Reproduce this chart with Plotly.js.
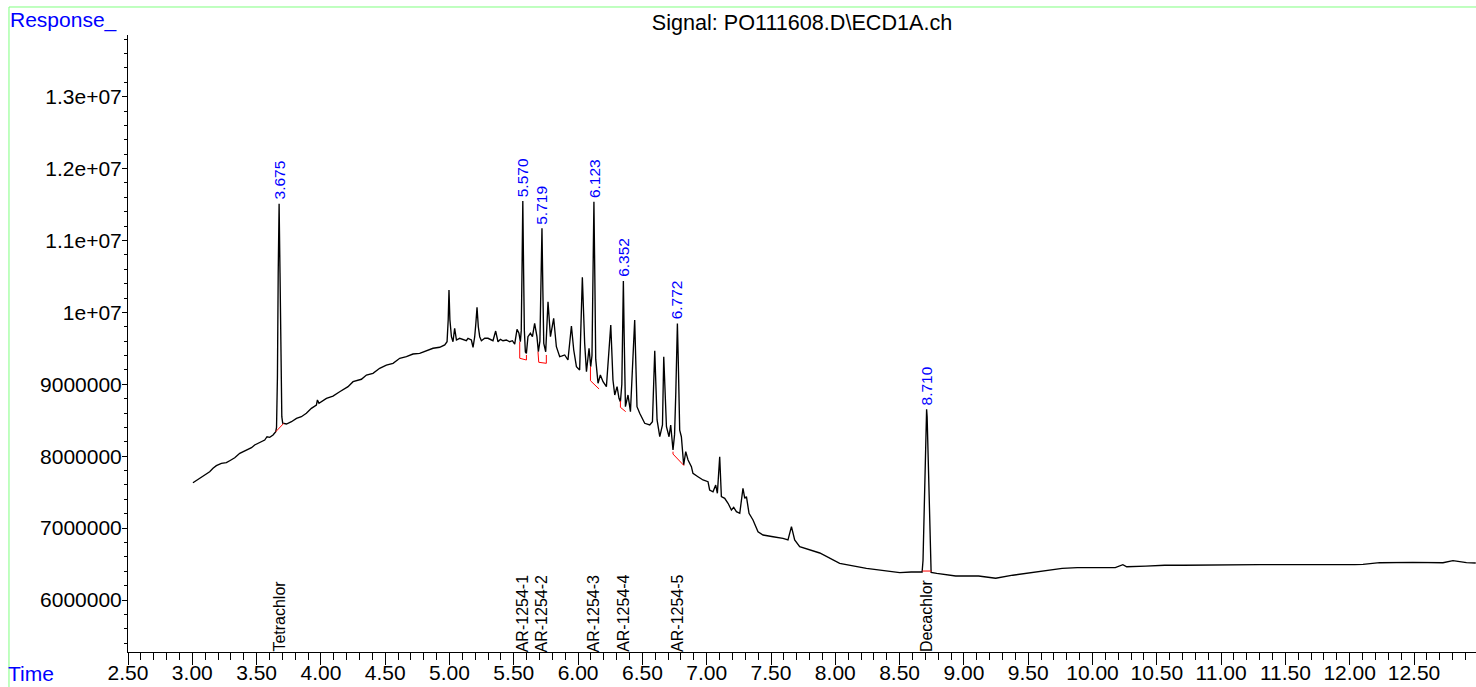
<!DOCTYPE html>
<html><head><meta charset="utf-8">
<script src="https://cdn.plot.ly/plotly-3.0.1.min.js"></script>
<style>html,body{margin:0;padding:0;background:#fff;overflow:hidden}#chart{width:1476px;height:687px}</style>
</head><body><div id="chart"></div>
<script>
// Retention time (min)
const times = [
3.005,3.044,3.071,3.096,3.135,3.161,3.187,3.226,3.265,3.291,3.330,3.369,3.394,3.421,3.460,3.485,3.524,3.563,3.581,3.602,3.628,
3.649,3.655,3.662,3.668,3.675,3.682,3.688,3.696,3.703,3.711,3.732,3.771,3.810,3.848,3.887,3.926,3.965,3.973,3.985,
4.043,4.094,4.146,4.211,4.250,4.315,4.354,4.405,4.457,4.509,4.561,4.613,4.665,4.716,4.768,4.846,4.872,4.924,4.963,
4.981,4.990,4.996,5.003,5.015,5.027,5.040,5.054,5.079,5.105,5.131,5.144,5.170,5.183,5.196,5.205,5.214,5.224,5.235,
5.248,5.274,5.299,5.313,5.338,5.359,5.377,5.396,5.416,5.442,5.468,5.489,5.507,5.525,5.540,
5.551,5.558,5.564,5.570,5.576,5.582,5.590,5.598,5.610,5.629,5.645,5.662,5.680,
5.691,5.703,5.711,5.719,5.726,5.733,5.748,5.766,5.785,5.810,5.831,5.857,5.876,5.896,5.921,5.948,5.966,5.987,
6.012,6.033,6.051,6.065,6.085,6.098,6.108,6.116,6.123,6.130,6.137,6.155,6.173,6.194,6.220,6.254,6.271,6.285,6.303,
6.318,6.329,6.340,6.346,6.352,6.358,6.363,6.368,6.388,6.407,6.440,6.458,6.479,6.518,6.557,6.578,6.596,6.614,6.635,
6.656,6.666,6.687,6.707,6.720,6.738,6.750,6.760,6.766,6.772,6.778,6.784,6.790,6.803,6.821,6.837,6.855,6.881,6.893,
6.932,6.971,7.010,7.023,7.049,7.070,7.083,7.101,7.114,7.140,7.166,7.192,7.210,7.231,7.257,7.282,7.296,7.309,7.329,
7.360,7.399,7.438,7.516,7.593,7.632,7.659,7.684,7.723,7.879,7.982,8.034,8.242,8.397,8.501,8.590,
8.675,8.682,8.690,8.700,8.706,8.710,8.714,8.720,8.730,8.738,8.745,
8.789,8.936,9.114,9.247,9.380,9.527,9.675,9.764,9.882,10.059,10.177,10.236,10.266,10.414,10.561,10.709,11.005,11.300,11.596,11.891,
12.039,12.103,12.233,12.492,12.725,12.803,12.908,12.980
];
// Detector response
const response = [
7.631e6,7.679e6,7.715e6,7.738e6,7.784e6,7.832e6,7.868e6,7.901e6,7.910e6,7.937e6,7.979e6,8.040e6,8.063e6,8.086e6,8.118e6,8.156e6,8.188e6,8.225e6,8.271e6,8.263e6,8.295e6,
8.341e6,8.400e6,9.100e6,10.550e6,11.510e6,10.550e6,9.200e6,8.550e6,8.460e6,8.457e6,8.448e6,8.480e6,8.527e6,8.549e6,8.597e6,8.666e6,8.712e6,8.782e6,8.736e6,
8.805e6,8.837e6,8.897e6,8.967e6,9.036e6,9.070e6,9.129e6,9.153e6,9.223e6,9.268e6,9.292e6,9.362e6,9.384e6,9.421e6,9.431e6,9.487e6,9.501e6,9.515e6,9.547e6,
9.592e6,9.900e6,10.312e6,9.900e6,9.662e6,9.592e6,9.779e6,9.616e6,9.640e6,9.626e6,9.606e6,9.640e6,9.616e6,9.515e6,9.662e6,9.850e6,10.071e6,9.800e6,9.662e6,
9.606e6,9.640e6,9.640e6,9.626e6,9.606e6,9.741e6,9.592e6,9.626e6,9.606e6,9.616e6,9.592e6,9.606e6,9.560e6,9.765e6,9.709e6,
9.593e6,9.750e6,10.600e6,11.550e6,10.600e6,9.750e6,9.450e6,9.430e6,9.662e6,9.709e6,9.662e6,9.848e6,9.662e6,
9.453e6,9.600e6,10.300e6,11.170e6,10.300e6,9.570e6,9.453e6,10.149e6,9.662e6,9.918e6,9.523e6,9.384e6,9.394e6,9.408e6,9.338e6,9.811e6,9.477e6,9.245e6,
9.199e6,10.488e6,9.570e6,9.175e6,9.501e6,9.245e6,9.400e6,10.500e6,11.540e6,10.500e6,9.350e6,9.014e6,9.129e6,9.036e6,8.967e6,9.825e6,9.060e6,8.851e6,8.967e6,
8.805e6,8.758e6,9.000e6,9.700e6,10.437e6,9.700e6,9.000e6,8.689e6,8.851e6,8.619e6,9.894e6,8.689e6,8.597e6,8.458e6,8.434e6,8.480e6,9.467e6,8.504e6,8.271e6,
8.434e6,9.384e6,8.410e6,8.271e6,8.434e6,8.086e6,8.300e6,8.900e6,9.400e6,9.846e6,9.400e6,8.700e6,8.364e6,8.271e6,7.878e6,8.063e6,7.947e6,7.854e6,7.762e6,
7.715e6,7.669e6,7.645e6,7.530e6,7.506e6,7.599e6,7.484e6,7.993e6,7.437e6,7.414e6,7.345e6,7.252e6,7.289e6,7.228e6,7.206e6,7.554e6,7.414e6,7.437e6,7.206e6,
7.113e6,6.950e6,6.904e6,6.880e6,6.858e6,6.835e6,7.020e6,6.835e6,6.741e6,6.654e6,6.556e6,6.510e6,6.441e6,6.403e6,6.380e6,6.389e6,
6.390e6,6.550e6,7.300e6,8.050e6,8.550e6,8.652e6,8.550e6,8.050e6,7.300e6,6.550e6,6.385e6,
6.371e6,6.334e6,6.334e6,6.303e6,6.345e6,6.383e6,6.424e6,6.440e6,6.451e6,6.451e6,6.451e6,6.492e6,6.462e6,6.472e6,6.483e6,6.483e6,6.492e6,6.492e6,6.492e6,6.488e6,
6.492e6,6.496e6,6.519e6,6.524e6,6.519e6,6.547e6,6.519e6,6.515e6
];
// Integration baselines (red)
const baseTimes = [[3.649,3.711],[5.546,5.546,5.598,5.598],[5.688,5.694,5.753,5.753],[6.096,6.096,6.163],[6.329,6.329,6.370],[6.738,6.738,6.824],[8.677,8.747]];
const baseResp = [[8.341e6,8.457e6],[9.593e6,9.362e6,9.338e6,9.408e6],[9.453e6,9.306e6,9.292e6,9.408e6],[9.245e6,9.050e6,8.935e6],[8.770e6,8.680e6,8.620e6],[8.063e6,8.030e6,7.868e6],[6.403e6,6.403e6]];
// Identified peaks
const peakTimes = [3.675,5.570,5.719,6.123,6.352,6.772,8.710];
const peakLabels = ["3.675","5.570","5.719","6.123","6.352","6.772","8.710"];
const compoundNames = ["Tetrachlor","AR-1254-1","AR-1254-2","AR-1254-3","AR-1254-4","AR-1254-5","Decachlor"];
// Axis ticks
const xTickVals = [2.5,3,3.5,4,4.5,5,5.5,6,6.5,7,7.5,8,8.5,9,9.5,10,10.5,11,11.5,12,12.5];
const yTickVals = [6e6,7e6,8e6,9e6,1e7,1.1e7,1.2e7,1.3e7];
const yTickText = ["6000000","7000000","8000000","9000000","1e+07","1.1e+07","1.2e+07","1.3e+07"];

const FONT = "Liberation Sans, Arial, Helvetica, sans-serif";
const traces = [{
  x: times, y: response, type: 'scatter', mode: 'lines',
  line: {color: '#000000', width: 1.35}, hoverinfo: 'skip', showlegend: false
}];
baseTimes.forEach((bx, i) => traces.push({
  x: bx, y: baseResp[i], type: 'scatter', mode: 'lines',
  line: {color: '#ff0000', width: 1}, hoverinfo: 'skip', showlegend: false
}));

const annotations = [];
peakTimes.forEach((t, i) => {
  const idx = times.indexOf(t);
  annotations.push({
    x: t, y: response[idx], xref: 'x', yref: 'y', text: peakLabels[i], showarrow: false,
    textangle: -90, xanchor: 'center', yanchor: 'bottom', yshift: 2,
    font: {family: FONT, size: 15.5, color: '#0000ff'}
  });
  annotations.push({
    x: t, y: 0, xref: 'x', yref: 'paper', text: compoundNames[i], showarrow: false,
    textangle: -90, xanchor: 'center', yanchor: 'bottom', yshift: -2,
    font: {family: FONT, size: 16, color: '#000000'}
  });
});
annotations.push({x: -0.0890, y: 1.0240, xref: 'paper', yref: 'paper', text: 'Response_', showarrow: false,
  xanchor: 'left', yanchor: 'middle', font: {family: FONT, size: 21, color: '#0000ff'}});
annotations.push({x: -0.0890, y: -0.0348, xref: 'paper', yref: 'paper', text: 'Time', showarrow: false,
  borderpad: 0, borderwidth: 0,
  xanchor: 'left', yanchor: 'middle', font: {family: FONT, size: 21, color: '#0000ff'}});

const layout = {
  width: 1476, height: 687,
  margin: {l: 128, r: 0, t: 35, b: 35, pad: 0},
  paper_bgcolor: '#ffffff', plot_bgcolor: '#ffffff',
  font: {family: FONT, size: 21, color: '#000000'},
  title: {text: 'Signal: PO111608.D\\ECD1A.ch', font: {family: FONT, size: 21.6, color: '#000000'},
    x: 0.5, xref: 'paper', xanchor: 'center', y: 1 - 22/687, yref: 'container', yanchor: 'middle'},
  showlegend: false,
  xaxis: {
    range: [2.5, 12.982], showgrid: false, zeroline: false, showline: true, linecolor: '#000', linewidth: 1,
    tickmode: 'array', tickvals: xTickVals, ticktext: xTickVals.map(v => v.toFixed(2)),
    ticks: 'outside', ticklen: 12, tickwidth: 1, tickcolor: '#000', ticklabelstandoff: -10,
    tickfont: {family: FONT, size: 21, color: '#000'},
    minor: {tickmode: 'linear', tick0: 2.5, dtick: 0.1, ticks: 'outside', ticklen: 7, tickwidth: 1, tickcolor: '#000', showgrid: false},
    automargin: false, fixedrange: true
  },
  yaxis: {
    range: [5.277e6, 13.858e6], showgrid: false, zeroline: false, showline: true, linecolor: '#000', linewidth: 1,
    tickmode: 'array', tickvals: yTickVals, ticktext: yTickText,
    ticks: 'outside', ticklen: 5, tickwidth: 1, tickcolor: '#000', ticklabelstandoff: -4,
    tickfont: {family: FONT, size: 21, color: '#000'},
    minor: {tickmode: 'linear', tick0: 0, dtick: 200000, ticks: 'outside', ticklen: 3, tickwidth: 1, tickcolor: '#000', showgrid: false},
    automargin: false, fixedrange: true
  },
  annotations: annotations,
  shapes: [
    {type: 'line', xref: 'paper', yref: 'paper', x0: -0.0883, x1: 1.01, y0: 1.0454, y1: 1.0454, line: {color: '#80ff80', width: 1}},
    {type: 'line', xref: 'paper', yref: 'paper', x0: -0.0883, x1: -0.0883, y0: 1.0454, y1: -0.08, line: {color: '#80ff80', width: 1}}
  ]
};
Plotly.newPlot('chart', traces, layout, {staticPlot: true, displayModeBar: false});
</script></body></html>
